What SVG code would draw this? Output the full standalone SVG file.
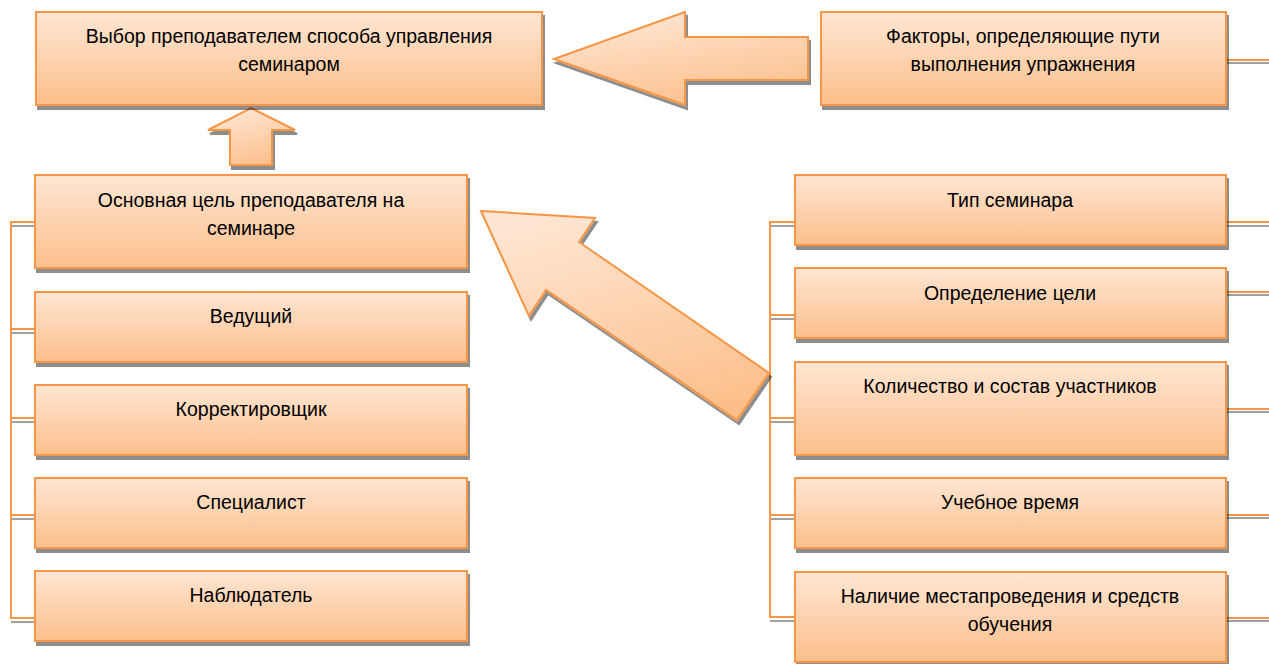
<svg xmlns="http://www.w3.org/2000/svg" width="1269" height="664" viewBox="0 0 1269 664">
<defs>
<linearGradient id="g" x1="0" y1="0" x2="0" y2="1">
<stop offset="0" stop-color="#FFE6D3"/>
<stop offset="1" stop-color="#FCBF8B"/>
</linearGradient>
<linearGradient id="ga" x1="0.3" y1="0" x2="0.7" y2="1">
<stop offset="0" stop-color="#FFE6D3"/>
<stop offset="1" stop-color="#FCBF8B"/>
</linearGradient>
<filter id="sh" x="-10%" y="-10%" width="125%" height="130%">
<feGaussianBlur in="SourceAlpha" stdDeviation="0.6"/>
<feOffset dx="1.5" dy="4" result="o"/>
<feComponentTransfer><feFuncA type="linear" slope="0.45"/></feComponentTransfer>
<feMerge><feMergeNode/><feMergeNode in="SourceGraphic"/></feMerge>
</filter>
</defs>
<style>
.box{fill:url(#g);stroke:#F79646;stroke-width:2;filter:url(#sh)}
.arr{fill:url(#ga);stroke:#F79646;stroke-width:2;stroke-linejoin:miter;filter:url(#sh)}
.t{font-family:"Liberation Sans",Arial,sans-serif;font-size:19.5px;fill:#000;text-anchor:middle}
.c{fill:none;stroke:#F79646;stroke-width:2}
.cs{fill:none;stroke:#8a8a8a;stroke-width:2;stroke-opacity:0.8}
</style>
<rect width="1269" height="664" fill="#fff"/>

<g id="connectors">
<path class="cs" d="M11 226H35M11 333H35M11 422H35M11 519H35M11 622H35"/>
<path class="c" d="M35 222H11V618H35M11 329H35M11 418H35M11 515H35"/>
<path class="cs" d="M770 226H795M770 319H795M770 422H795M770 519H795M770 621H795"/>
<path class="c" d="M795 222H770V617H795M770 315H795M770 418H795M770 515H795"/>
<path class="cs" d="M1226 63H1269M1226 226H1269M1226 295H1269M1226 412H1269M1226 518H1269M1226 621H1269"/>
<path class="c" d="M1226 60H1269M1226 222H1269M1226 292H1269M1226 409H1269M1226 515H1269M1226 618H1269"/>
</g>

<g id="arrow-left"><polygon class="arr" points="554,59 685,12 685,37 808,37 808,80 685,80 685,105"/></g>
<g id="arrow-up"><polygon class="arr" points="251,108 295,130 272,130 272,165 230,165 230,130 208,130"/></g>
<g id="arrow-diag"><polygon class="arr" points="481,211 595,218 579,242 769,373 737,420 546,290 529,316"/></g>

<g id="n-choice"><rect class="box" x="36" y="12" width="506" height="93"/>
<text class="t" x="289" y="43">Выбор преподавателем способа управления</text>
<text class="t" x="289" y="71">семинаром</text></g>

<g id="n-factors"><rect class="box" x="821" y="12" width="405" height="93"/>
<text class="t" x="1023" y="43">Факторы, определяющие пути</text>
<text class="t" x="1023" y="71">выполнения упражнения</text></g>

<g id="n-goal"><rect class="box" x="35" y="175" width="432" height="93"/>
<text class="t" x="251" y="207">Основная цель преподавателя на</text>
<text class="t" x="251" y="235">семинаре</text></g>

<g id="n-leader"><rect class="box" x="35" y="292" width="432" height="70"/>
<text class="t" x="251" y="323">Ведущий</text></g>

<g id="n-corrector"><rect class="box" x="35" y="385" width="432" height="70"/>
<text class="t" x="251" y="416">Корректировщик</text></g>

<g id="n-specialist"><rect class="box" x="35" y="478" width="432" height="70"/>
<text class="t" x="251" y="509">Специалист</text></g>

<g id="n-observer"><rect class="box" x="35" y="571" width="432" height="70"/>
<text class="t" x="251" y="602">Наблюдатель</text></g>

<g id="n-type"><rect class="box" x="795" y="175" width="431" height="70"/>
<text class="t" x="1010" y="207">Тип семинара</text></g>

<g id="n-aim"><rect class="box" x="795" y="268" width="431" height="70"/>
<text class="t" x="1010" y="300">Определение цели</text></g>

<g id="n-count"><rect class="box" x="795" y="362" width="431" height="93"/>
<text class="t" x="1010" y="393">Количество и состав участников</text></g>

<g id="n-time"><rect class="box" x="795" y="478" width="431" height="70"/>
<text class="t" x="1010" y="509">Учебное время</text></g>

<g id="n-place"><rect class="box" x="795" y="572" width="431" height="90"/>
<text class="t" x="1010" y="603">Наличие местапроведения и средств</text>
<text class="t" x="1010" y="631">обучения</text></g>
</svg>
